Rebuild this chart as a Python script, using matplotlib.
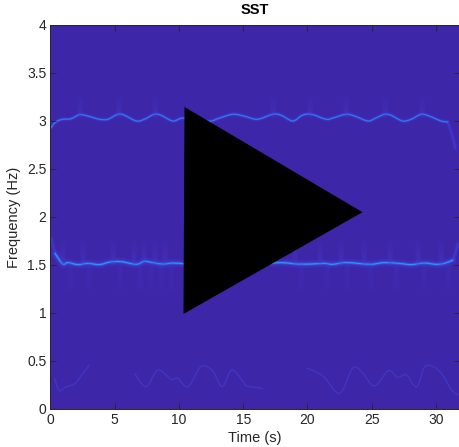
import matplotlib
matplotlib.use("Agg")
import matplotlib.pyplot as plt
from matplotlib.patches import Polygon, PathPatch
from matplotlib.path import Path

plt.rcParams['font.family'] = ['Liberation Sans', 'DejaVu Sans']

# ridge near 3 Hz
t_high = [0.05, 0.25, 0.55, 0.96, 1.61, 2.26, 2.9, 3.81, 4.46, 5.24, 5.76, 6.67, 7.3, 8.09, 8.61, 9.52, 10.3,
          11.7, 12.5, 13.15, 14.2, 15.1, 16.1, 17.3, 17.95, 18.86, 19.6, 20.3, 21.45, 21.95, 23.0, 23.66, 24.7,
          25.3, 26.0, 26.5, 27.4, 28.07, 28.85, 29.5, 30.4, 30.9]
f_high = [2.93, 2.97, 3.0, 3.018, 3.024, 3.066, 3.052, 3.018, 3.018, 3.07, 3.06, 3.0, 3.018, 3.07, 3.06, 3.0, 3.03,
          3.0, 3.0, 3.03, 3.07, 3.05, 3.018, 3.07, 3.06, 3.0, 3.06, 3.07, 3.018, 3.03, 3.07, 3.052, 3.0,
          3.03, 3.07, 3.06, 3.0, 3.018, 3.07, 3.05, 3.0, 2.99]

# ridge near 1.5 Hz
t_mid = [0.35, 0.96, 1.35, 2.13, 2.9, 3.81, 4.6, 5.5, 6.67, 7.3, 7.95, 8.7, 9.5, 10.3,
         17.2, 18.0, 18.7, 19.2, 20.3, 21.3, 21.95, 22.9, 23.9, 24.95, 26.0, 27.3, 28.07, 29.1, 30.0, 30.66, 31.3]
f_mid = [1.62, 1.51, 1.525, 1.504, 1.517, 1.504, 1.53, 1.535, 1.507, 1.538, 1.525, 1.51, 1.52, 1.514,
         1.52, 1.525, 1.517, 1.51, 1.51, 1.517, 1.507, 1.525, 1.517, 1.507, 1.525, 1.514, 1.504, 1.52, 1.507, 1.517, 1.55]

# faint ridge under 0.5 Hz
t_low = [0.31, 0.7, 1.22, 1.87, 2.51, 3.03, 6.54, 7.45, 8.35, 9.39, 9.9, 10.7, 11.7, 12.6, 13.36, 14.1, 15.0,
         15.3, 16.5, 20.0, 21.2, 22.5, 23.5, 24.2, 25.2, 26.3, 27.0, 27.7, 28.5, 29.2, 30.3, 31.2, 31.7]
f_low = [0.32, 0.19, 0.233, 0.26, 0.37, 0.458, 0.37, 0.233, 0.406, 0.31, 0.32, 0.233, 0.44, 0.40, 0.233, 0.406, 0.285,
         0.24, 0.215, 0.424, 0.344, 0.163, 0.424, 0.39, 0.24, 0.40, 0.33, 0.355, 0.233, 0.45, 0.39, 0.2, 0.146]

# short smears above and below the two main ridges
flare_t_mid = [1.0, 2.5, 4.9, 6.5, 7.3, 8.1, 8.9, 19.0, 21.0, 22.6, 24.4, 26.4, 28.6, 30.4]
flare_t_high = [2.3, 5.3, 8.1, 17.3, 20.2, 23.0, 26.0, 28.9]

# tails running off the ridge ends at the left and right edge
tail_high_t = [30.9, 31.1, 31.3, 31.5]
tail_high_f = [2.99, 2.92, 2.83, 2.72]
tail_mid_t = [31.0, 31.3, 31.5, 31.7]
tail_mid_f = [1.53, 1.55, 1.62, 1.72]
tail_left_t = [0.05, 0.2, 0.35]
tail_left_f = [1.78, 1.7, 1.62]

# black triangle drawn on top of the plot
tri_t = [10.43, 24.28, 10.35]
tri_f = [3.146, 2.05, 0.99]

x_ticks = [0, 5, 10, 15, 20, 25, 30]
y_ticks = [0, 0.5, 1, 1.5, 2, 2.5, 3, 3.5, 4]
y_labels = ['0', '0.5', '1', '1.5', '2', '2.5', '3', '3.5', '4']


def split_at_gap(t, f, gap=3.0):
    parts = []
    start = 0
    for i in range(1, len(t)):
        if t[i] - t[i - 1] > gap:
            parts.append((t[start:i], f[start:i]))
            start = i
    parts.append((t[start:], f[start:]))
    return parts


def curve_path(t, f):
    # bezier through the read points so the ridge has no corners
    pts = list(zip(t, f))
    verts = [pts[0]]
    codes = [Path.MOVETO]
    for i in range(len(pts) - 1):
        p0 = pts[max(i - 1, 0)]
        p1 = pts[i]
        p2 = pts[i + 1]
        p3 = pts[min(i + 2, len(pts) - 1)]
        c1 = (p1[0] + (p2[0] - p0[0]) / 6, p1[1] + (p2[1] - p0[1]) / 6)
        c2 = (p2[0] - (p3[0] - p1[0]) / 6, p2[1] - (p3[1] - p1[1]) / 6)
        verts += [c1, c2, p2]
        codes += [Path.CURVE4, Path.CURVE4, Path.CURVE4]
    return Path(verts, codes)


def draw_ridge(ax, t, f, layers):
    for tp, fp in split_at_gap(t, f):
        for color, lw, alpha in layers:
            ax.add_patch(PathPatch(curve_path(tp, fp), facecolor='none', edgecolor=color, lw=lw, alpha=alpha,
                                   capstyle='round', joinstyle='round'))


def draw_flare(ax, t, f0, f1, a=0.09):
    # stacked short strokes fade out away from the ridge
    for k in [1.0, 0.75, 0.5, 0.3]:
        ax.plot([t, t], [f0, f0 + (f1 - f0) * k], color='#4a44d8', lw=1.5 + 3.0 * k, alpha=a,
                solid_capstyle='round')


fig = plt.figure(figsize=(4.6, 4.47), dpi=100)
ax = fig.add_axes([50.5 / 460, 38 / 447, 409.5 / 460, 384 / 447])
ax.set_facecolor('#3e26a8')

# smears first so the ridges sit on top
for t in flare_t_mid:
    draw_flare(ax, t, 1.52, 1.72)
    draw_flare(ax, t + 0.5, 1.50, 1.25, a=0.06)
for t in flare_t_high:
    draw_flare(ax, t, 3.06, 3.22, a=0.08)

tail_layers = [('#4338d8', 3.0, 0.3), ('#3f45dc', 1.2, 0.5)]
draw_ridge(ax, tail_high_t, tail_high_f, tail_layers)
draw_ridge(ax, tail_mid_t, tail_mid_f, tail_layers)
draw_ridge(ax, tail_left_t, tail_left_f, tail_layers)

draw_ridge(ax, t_high, f_high, [('#4338d8', 3.2, 0.35), ('#3a55ea', 1.5, 0.65), ('#2c86ec', 0.7, 0.9)])
draw_ridge(ax, t_mid, f_mid, [('#4338d8', 5.5, 0.35), ('#3a55ea', 2.4, 0.7), ('#2a9ae0', 0.9, 1.0)])
draw_ridge(ax, t_low, f_low, [('#4230c0', 1.6, 0.35), ('#4048d8', 0.6, 0.6)])

ax.add_patch(Polygon(list(zip(tri_t, tri_f)), closed=True, facecolor='black', edgecolor='none', zorder=5))

ax.set_xlim(0, 31.87)
ax.set_ylim(0, 4)
ax.set_xticks(x_ticks)
ax.set_yticks(y_ticks)
ax.set_yticklabels(y_labels)
ax.tick_params(direction='in', top=True, right=True, length=4, width=0.6, color='#262626',
               labelcolor='#262626', labelsize=10, pad=3)
for s in ax.spines.values():
    s.set_linewidth(0.7)
    s.set_color('#262626')

ax.set_title('SST', fontsize=10.5, fontweight='bold', color='black', pad=8)
ax.set_xlabel('Time (s)', fontsize=10.5, color='#262626', labelpad=3)
ax.set_ylabel('Frequency (Hz)', fontsize=10.5, color='#262626', labelpad=4)

fig.savefig('out.png', dpi=100)
